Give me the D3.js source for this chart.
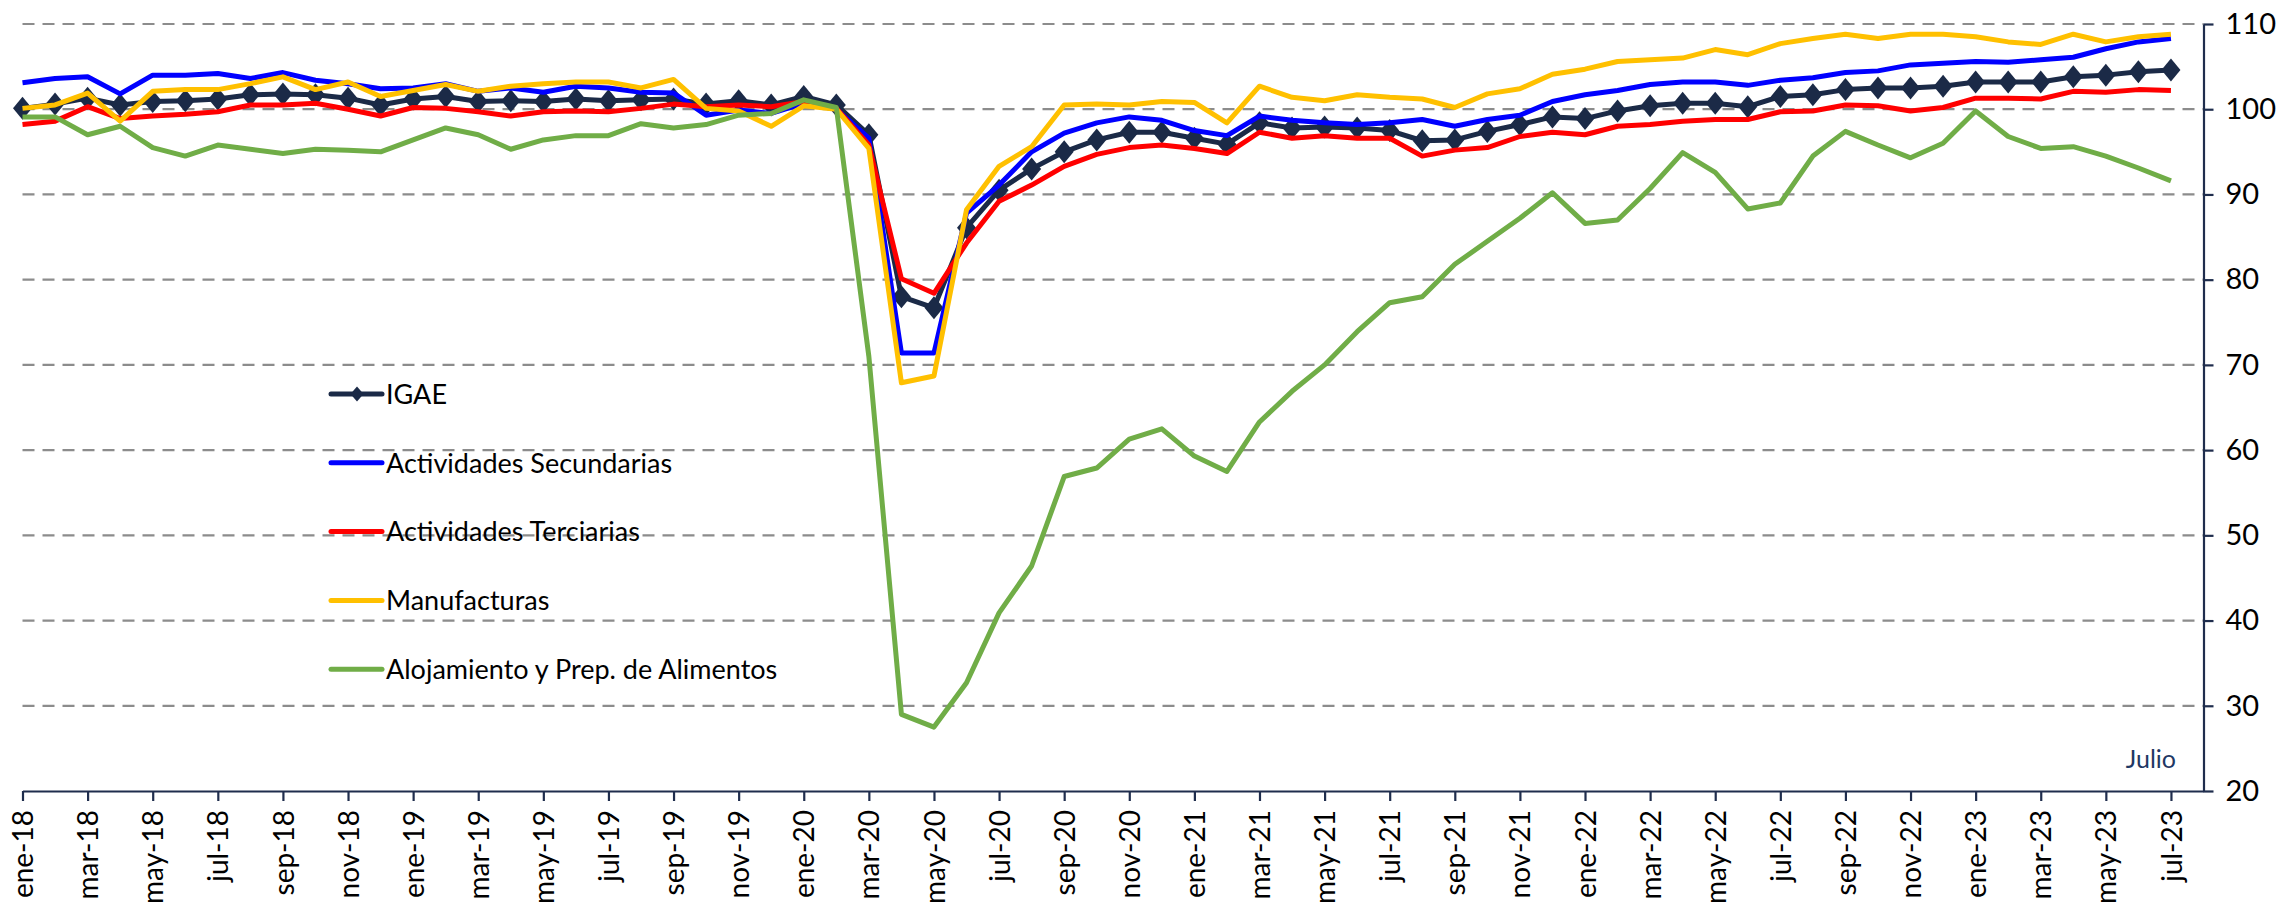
<!DOCTYPE html>
<html>
<head>
<meta charset="utf-8">
<script src="https://cdn.jsdelivr.net/npm/d3@7"></script>
<style>
  body { margin: 0; background: #fff; }
  text { font-family: Lato, "Noto Sans", sans-serif; }
</style>
</head>
<body>
<script>

var meses = ["ene", "feb", "mar", "abr", "may", "jun", "jul", "ago", "sep", "oct", "nov", "dic"];
var fechas = [];
for (var a = 18; a <= 23; a++) {
  for (var m = 0; m < 12; m++) {
    if (a == 23 && m > 6) break;
    fechas.push(meses[m] + "-" + a);
  }
}

var igae = [100.1, 100.6, 101.3, 100.5, 100.9, 101.0, 101.2, 101.7, 101.8, 101.7, 101.3, 100.5,
  101.2, 101.5, 100.9, 101.0, 100.9, 101.2, 101.0, 101.1, 101.2, 100.6, 101.0, 100.5,
  101.5, 100.5, 97.0, 78.0, 76.7, 86.1, 90.5, 93.0, 95.0, 96.4, 97.3, 97.3,
  96.6, 95.9, 98.4, 97.8, 97.9, 97.8, 97.5, 96.3, 96.4, 97.4, 98.2, 99.1,
  98.9, 99.8, 100.4, 100.7, 100.7, 100.3, 101.5, 101.7, 102.3, 102.5, 102.5, 102.7,
  103.2, 103.2, 103.2, 103.8, 104.0, 104.4, 104.6];

var secundarias = [103.1, 103.6, 103.8, 101.8, 104.0, 104.0, 104.2, 103.6, 104.3, 103.4, 103.0, 102.4,
  102.5, 103.0, 102.1, 102.5, 102.0, 102.7, 102.5, 102.0, 101.9, 99.3, 99.9, 99.5,
  100.7, 100.0, 96.6, 71.4, 71.4, 87.8, 91.1, 95.0, 97.2, 98.4, 99.1, 98.7,
  97.5, 96.9, 99.2, 98.7, 98.4, 98.2, 98.4, 98.8, 98.0, 98.8, 99.3, 100.9,
  101.7, 102.2, 102.9, 103.2, 103.2, 102.8, 103.4, 103.7, 104.3, 104.5, 105.2, 105.4,
  105.6, 105.5, 105.8, 106.1, 107.1, 107.9, 108.3];

var terciarias = [98.2, 98.6, 100.3, 98.9, 99.2, 99.4, 99.7, 100.5, 100.5, 100.7, 100.0, 99.2,
  100.2, 100.1, 99.7, 99.2, 99.7, 99.8, 99.7, 100.1, 100.6, 100.3, 100.5, 100.3,
  100.9, 100.1, 95.8, 80.1, 78.4, 84.3, 89.2, 91.1, 93.3, 94.7, 95.5, 95.8,
  95.4, 94.8, 97.3, 96.6, 96.9, 96.6, 96.6, 94.5, 95.2, 95.5, 96.8, 97.3,
  97.0, 98.0, 98.2, 98.6, 98.8, 98.8, 99.7, 99.8, 100.5, 100.4, 99.8, 100.2,
  101.3, 101.3, 101.2, 102.1, 102.0, 102.3, 102.2];

var manufacturas = [100.1, 100.5, 101.9, 98.6, 102.1, 102.3, 102.3, 103.0, 103.8, 102.3, 103.2, 101.5,
  102.2, 102.9, 102.1, 102.7, 103.0, 103.2, 103.2, 102.5, 103.5, 100.1, 99.8, 98.0,
  100.4, 100.0, 95.4, 67.9, 68.7, 88.2, 93.3, 95.6, 100.5, 100.6, 100.5, 100.9,
  100.8, 98.4, 102.7, 101.4, 101.0, 101.7, 101.4, 101.2, 100.2, 101.8, 102.4, 104.1,
  104.7, 105.6, 105.8, 106.0, 107.0, 106.4, 107.7, 108.3, 108.8, 108.3, 108.8, 108.8,
  108.5, 107.9, 107.6, 108.8, 107.9, 108.5, 108.8];

var alojamiento = [99.1, 99.1, 97.0, 98.0, 95.5, 94.5, 95.8, 95.3, 94.8, 95.3, 95.2, 95.0,
  96.4, 97.8, 97.0, 95.3, 96.4, 96.9, 96.9, 98.3, 97.8, 98.2, 99.3, 99.5,
  101.1, 100.2, 71.0, 29.0, 27.5, 32.7, 40.9, 46.4, 56.9, 57.9, 61.3, 62.5,
  59.3, 57.5, 63.3, 66.9, 70.0, 73.9, 77.3, 78.0, 81.8, 84.5, 87.2, 90.2,
  86.6, 87.0, 90.7, 94.9, 92.6, 88.3, 89.0, 94.5, 97.4, 95.8, 94.3, 96.0,
  99.8, 96.8, 95.4, 95.6, 94.5, 93.1, 91.6];

var yTicks = [20, 30, 40, 50, 60, 70, 80, 90, 100, 110];

var series = [
  { nombre: "IGAE", valores: igae, color: "#1B2A47", marca: true },
  { nombre: "Actividades Secundarias", valores: secundarias, color: "#0000FF" },
  { nombre: "Actividades Terciarias", valores: terciarias, color: "#FF0000" },
  { nombre: "Manufacturas", valores: manufacturas, color: "#FFC000" },
  { nombre: "Alojamiento y Prep. de Alimentos", valores: alojamiento, color: "#70AD47" }
];

var width = 2287, height = 909;
var ejeColor = "#1F2D4D";

var svg = d3.select("body").append("svg")
            .attr("width", width)
            .attr("height", height)
            .style("background", "#fff");

var x = d3.scaleLinear().domain([0, fechas.length]).range([22.5, 2203.5]);
var y = d3.scaleLinear().domain([20, 110]).range([791, 24]);

// lineas de cuadricula
svg.append("g").selectAll("line")
   .data(yTicks.filter(function(d) { return d > 20; }))
   .enter().append("line")
   .attr("x1", x(0))
   .attr("x2", x(fechas.length))
   .attr("y1", function(d) { return y(d); })
   .attr("y2", function(d) { return y(d); })
   .style("stroke", "#8C8C8C")
   .style("stroke-width", 2.2)
   .style("stroke-dasharray", "12,8");

// eje x
var xAxis = d3.axisBottom(x)
              .tickValues(d3.range(0, fechas.length, 2))
              .tickSize(10)
              .tickSizeOuter(0)
              .tickFormat(function(d) { return fechas[d]; });

var gx = svg.append("g")
            .attr("transform", "translate(0," + y(20) + ")")
            .call(xAxis);
gx.select(".domain").style("stroke", ejeColor).style("stroke-width", 2.2);
gx.selectAll(".tick line").style("stroke", ejeColor).style("stroke-width", 2.2);
gx.selectAll(".tick text")
  .attr("transform", "rotate(-90)")
  .attr("x", -19)
  .attr("y", 0)
  .attr("dy", "0.36em")
  .style("text-anchor", "end")
  .style("font-family", "Lato, 'Noto Sans', sans-serif")
  .style("font-size", "28px")
  .style("fill", "#000");

// eje y a la derecha
var yAxis = d3.axisRight(y)
              .tickValues(yTicks)
              .tickSize(10)
              .tickSizeOuter(0)
              .tickPadding(12);

var gy = svg.append("g")
            .attr("transform", "translate(" + x(fechas.length) + ",0)")
            .call(yAxis);
gy.select(".domain").style("stroke", ejeColor).style("stroke-width", 2.2);
gy.selectAll(".tick line").style("stroke", ejeColor).style("stroke-width", 2.2);
gy.selectAll(".tick text")
  .style("font-family", "Lato, 'Noto Sans', sans-serif")
  .style("font-size", "29px")
  .style("fill", "#000");

// series
var linea = d3.line()
              .x(function(d, i) { return x(i); })
              .y(function(d) { return y(d); });

var rombo = function(w, h) {
  return "M0," + (-h / 2) + "L" + (w / 2) + ",0L0," + (h / 2) + "L" + (-w / 2) + ",0Z";
};

series.forEach(function(s) {
  svg.append("path")
     .datum(s.valores)
     .attr("d", linea)
     .style("fill", "none")
     .style("stroke", s.color)
     .style("stroke-width", 5)
     .style("stroke-linejoin", "round");

  if (s.marca) {
    svg.append("g").selectAll("path")
       .data(s.valores)
       .enter().append("path")
       .attr("d", rombo(19, 23))
       .attr("transform", function(d, i) { return "translate(" + x(i) + "," + y(d) + ")"; })
       .style("fill", s.color);
  }
});

// leyenda
var leyenda = svg.append("g").selectAll("g")
                 .data(series)
                 .enter().append("g")
                 .attr("transform", function(d, i) { return "translate(331," + (394 + i * 68.8) + ")"; });

leyenda.append("line")
       .attr("x1", 0)
       .attr("x2", 51)
       .style("stroke", function(d) { return d.color; })
       .style("stroke-width", 5)
       .style("stroke-linecap", "round");

leyenda.filter(function(d) { return d.marca; })
       .append("path")
       .attr("d", rombo(13, 15))
       .attr("transform", "translate(26,0)")
       .style("fill", function(d) { return d.color; });

leyenda.append("text")
       .attr("x", 55)
       .attr("dy", "0.36em")
       .style("font-size", "27px")
       .style("fill", "#000")
       .text(function(d) { return d.nombre; });

svg.append("text")
   .attr("x", 2176)
   .attr("y", 768)
   .style("text-anchor", "end")
   .style("font-size", "25px")
   .style("fill", "#1F3864")
   .text("Julio");

</script>
</body>
</html>
